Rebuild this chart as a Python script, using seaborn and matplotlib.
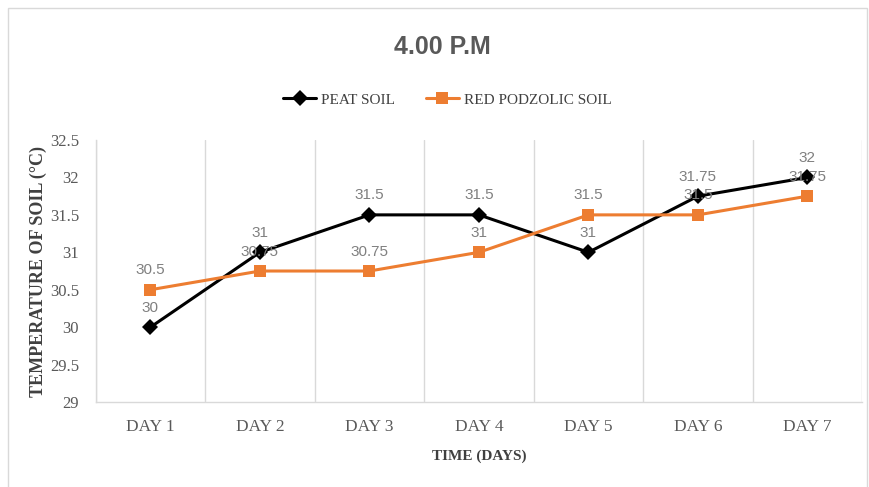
import numpy as np
import pandas as pd
import matplotlib
matplotlib.use("Agg")
import matplotlib.pyplot as plt
import seaborn as sns
from matplotlib.patches import Rectangle

days = ["DAY 1", "DAY 2", "DAY 3", "DAY 4", "DAY 5", "DAY 6", "DAY 7"]
peat_soil = [30, 31, 31.5, 31.5, 31, 31.75, 32]
red_podzolic = [30.5, 30.75, 30.75, 31, 31.5, 31.5, 31.75]
y_ticks = [29, 29.5, 30, 30.5, 31, 31.5, 32, 32.5]

df = pd.DataFrame({
    "pos": list(range(len(days))) * 2,
    "temp": peat_soil + red_podzolic,
    "soil": ["PEAT SOIL"] * len(days) + ["RED PODZOLIC SOIL"] * len(days),
})

sns.set_style("white")
plt.rcParams["font.family"] = ["DejaVu Sans"]

fig = plt.figure(figsize=(8.7, 4.87), dpi=100)
ax = fig.add_axes([0.110, 0.1745, 0.881, 0.538])

palette = {"PEAT SOIL": "black", "RED PODZOLIC SOIL": "#ED7D31"}
markers = {"PEAT SOIL": "D", "RED PODZOLIC SOIL": "s"}
sns.lineplot(data=df, x="pos", y="temp", hue="soil", style="soil",
             palette=palette, markers=markers, dashes=False,
             markersize=8, linewidth=2.2, markeredgewidth=0, ax=ax)

# data labels
label_font = dict(family="Liberation Sans", fontsize=11, color="#808080")
for i, v in enumerate(peat_soil):
    ax.annotate(f"{v:g}", (i, v), xytext=(0, 9), textcoords="offset points",
                ha="center", va="bottom", **label_font)
for i, v in enumerate(red_podzolic):
    ax.annotate(f"{v:g}", (i, v), xytext=(0, 9), textcoords="offset points",
                ha="center", va="bottom", **label_font)

ax.set_xlim(-0.5, 6.5)
ax.set_ylim(29, 32.5)
ax.set_yticks(y_ticks)
ax.set_yticklabels([f"{t:g}" for t in y_ticks], family="Liberation Serif",
                   fontsize=12, color="#595959")
ax.set_xticks(range(len(days)))
ax.set_xticklabels(days, family="Liberation Serif", fontsize=12.5, color="#595959")
ax.set_xticks(np.arange(-0.5, 7, 1), minor=True)
ax.grid(axis="x", which="minor", color="#d9d9d9", linewidth=1)
ax.tick_params(axis="y", which="both", length=0, pad=12)
ax.tick_params(axis="x", which="both", length=0, pad=12)

for s in ["top", "right"]:
    ax.spines[s].set_visible(False)
for s in ["left", "bottom"]:
    ax.spines[s].set_color("#d9d9d9")
    ax.spines[s].set_linewidth(1)

ax.set_xlabel("TIME (DAYS)", family="Liberation Serif", fontweight="bold",
              fontsize=11, color="#404040", labelpad=11)
ax.set_ylabel("TEMPERATURE OF SOIL (°C)", family="Liberation Serif",
              fontweight="bold", fontsize=13, color="#404040")
ax.yaxis.set_label_coords(-0.064, 0.5)

ax.legend_.remove()
handles, labels = ax.get_legend_handles_labels()
fig.legend(handles, labels, loc="center", bbox_to_anchor=(0.514, 0.795),
           ncol=2, frameon=False, prop={"family": "Liberation Serif", "size": 11},
           handlelength=2.2, columnspacing=2.0, handletextpad=0.3,
           labelcolor="#404040")

fig.text(0.508, 0.903, "4.00 P.M", ha="center", va="center",
         fontsize=18, fontweight="bold", color="#595959", family="Liberation Sans")

fig.patches.append(Rectangle((0.009, -0.01), 0.987, 0.994, transform=fig.transFigure,
                             fill=False, edgecolor="#d9d9d9", linewidth=1))

fig.savefig("out.png", dpi=100)
